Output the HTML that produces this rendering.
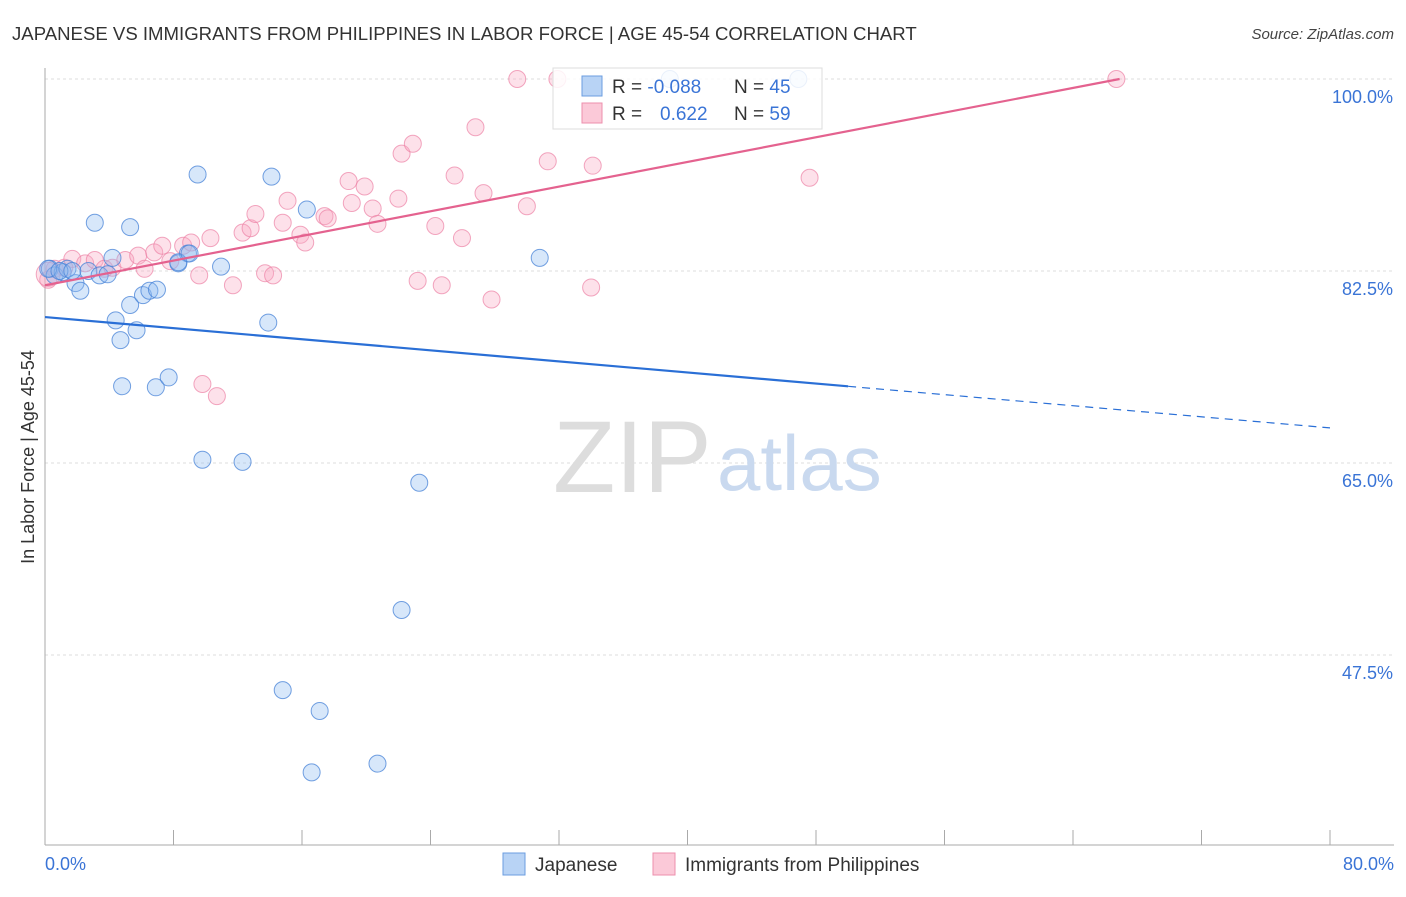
<!DOCTYPE html>
<html><head><meta charset="utf-8"><style>
body{margin:0;background:#fff;font-family:"Liberation Sans",sans-serif;}
svg text{font-family:"Liberation Sans",sans-serif;}
</style></head><body>
<svg id="chart" width="1406" height="892" xmlns="http://www.w3.org/2000/svg">
<text x="12" y="40" font-size="18.6" fill="#333">JAPANESE VS IMMIGRANTS FROM PHILIPPINES IN LABOR FORCE | AGE 45-54 CORRELATION CHART</text>
<text x="1394" y="39" font-size="15" fill="#444" text-anchor="end" font-style="italic">Source: ZipAtlas.com</text>
<g id="grid"></g>
<g>
<text x="553" y="492" font-size="102" fill="#ddd" font-family="Liberation Serif,serif">ZIP</text>
<text x="717" y="490" font-size="78" fill="#c9d9ef">atlas</text>
</g>
<line x1="45" y1="845" x2="1394" y2="845" stroke="#aaa"/>
<line x1="45" y1="68" x2="45" y2="845" stroke="#aaa"/>
<g id="ticks"></g>
<g id="pts"></g>
<g id="lines"></g>
<text transform="translate(34,457) rotate(-90)" font-size="18" fill="#333" text-anchor="middle">In Labor Force | Age 45-54</text>
<text x="45" y="870" font-size="18" fill="#3a74d6">0.0%</text>
<text x="1394" y="870" font-size="18" fill="#3a74d6" text-anchor="end">80.0%</text>
<g>
<rect x="553" y="68" width="269" height="61" fill="#fff" fill-opacity="0.85" stroke="#ddd"/>
<rect x="582" y="76" width="20" height="20" fill="#b8d3f5" stroke="#6b9ee0"/>
<rect x="582" y="103" width="20" height="20" fill="#fbc9d8" stroke="#ec8fad"/>
<text x="612" y="93" font-size="19" fill="#333">R = <tspan fill="#3a74d6">-0.088</tspan></text>
<text x="734" y="93" font-size="19" fill="#333">N = <tspan fill="#3a74d6">45</tspan></text>
<text x="612" y="120" font-size="19" fill="#333">R = </text>
<text x="660" y="120" font-size="19" fill="#3a74d6">0.622</text>
<text x="734" y="120" font-size="19" fill="#333">N = <tspan fill="#3a74d6">59</tspan></text>
</g>
<g>
<rect x="503" y="853" width="22" height="22" fill="#b8d3f5" stroke="#6b9ee0"/>
<text x="535" y="871" font-size="19" fill="#333">Japanese</text></g>
<g>
<rect x="653" y="853" width="22" height="22" fill="#fbc9d8" stroke="#ec8fad"/>
<text x="685" y="871" font-size="19" fill="#333">Immigrants from Philippines</text></g>
</svg>
<script>
const yTicks=[100,82.5,65,47.5];
const xTickVals=[0,8,16,24,32,40,48,56,64,72,80];
const jpX=[0.3,0.6,1.1,1.4,1.9,2.2,2.7,3.1,3.4,3.9,4.2,4.4,4.7,4.8,5.3,5.3,5.7,6.1,6.5,6.97,6.9,7.7,8.3,8.9,9.5,9.8,10.96,12.3,13.9,14.1,14.8,16.3,16.6,17.1,20.7,22.2,23.3,30.8,38.9,46.9,0.2,0.9,1.7,8.3,9.0];
const jpY=[82.7,82.1,82.4,82.7,81.4,80.7,82.5,86.9,82.1,82.2,83.7,78.0,76.2,72.0,79.4,86.5,77.1,80.3,80.7,80.8,71.9,72.8,83.2,84.1,91.3,65.3,82.9,65.1,77.8,91.1,44.3,88.1,36.8,42.4,37.6,51.6,63.2,83.7,100,100,82.7,82.5,82.5,83.3,84.1];
const phX=[0.2,0.6,1.2,1.7,2.5,3.1,3.7,4.2,5.0,5.8,6.2,6.8,7.3,7.8,8.6,9.1,9.6,10.3,10.7,9.8,11.7,12.3,12.8,13.1,13.7,14.2,14.8,15.1,15.9,16.2,17.4,17.6,18.9,19.1,19.9,20.4,20.7,22.0,22.2,22.9,23.2,24.3,24.7,25.5,25.96,26.8,27.3,27.8,29.4,30.0,31.3,31.9,34.0,34.1,47.6,66.7,0.2];
const phY=[81.7,82.7,82.8,83.6,83.2,83.5,82.7,82.8,83.5,83.9,82.7,84.2,84.8,83.4,84.8,85.1,82.1,85.5,71.1,72.2,81.2,86.0,86.4,87.7,82.3,82.1,86.9,88.9,85.8,85.1,87.5,87.3,90.7,88.7,90.2,88.2,86.8,89.1,93.2,94.1,81.6,86.6,81.2,91.2,85.5,95.6,89.6,79.9,100,88.4,92.5,100,81.0,92.1,91.0,100,82.2];
const X=v=>45+v*1285/80, Y=v=>79+(100-v)*192/17.5;
const NS='http://www.w3.org/2000/svg';
function mk(t,a,p){const e=document.createElementNS(NS,t);for(const k in a)e.setAttribute(k,a[k]);p.appendChild(e);return e;}
const grid=document.getElementById('grid'),ticks=document.getElementById('ticks'),pts=document.getElementById('pts'),lines=document.getElementById('lines');
yTicks.forEach(v=>{
 const l=mk('line',{x1:45,x2:1394,y1:Y(v),y2:Y(v),stroke:'#ddd','stroke-dasharray':'3,3'},grid);
 
 
 const t=mk('text',{x:1393,y:Y(v)+24,'font-size':18,fill:'#3a74d6','text-anchor':'end'},grid);
 t.textContent=v.toFixed(1)+'%';
 
 
});
xTickVals.forEach(v=>{
 const l=mk('line',{x1:X(v),x2:X(v),y1:830,y2:845,stroke:'#aaa'},ticks);
 
 
});
phX.forEach((v,i)=>{
 const c=mk('circle',{cx:X(v),cy:Y(phY[i]),r:i==phX.length-1?12:8.5,fill:'rgba(248,170,195,0.35)',stroke:'rgba(236,130,165,0.7)'},pts);
 
 
});
jpX.forEach((v,i)=>{
 const c=mk('circle',{cx:X(v),cy:Y(jpY[i]),r:8.5,fill:'rgba(140,185,240,0.35)',stroke:'rgba(70,130,215,0.75)'},pts);
 
 
});
const jpA=78.3,jpB=(68.2-78.3)/80,phA=81.2,phB=(100-81.2)/66.9;
let l=mk('line',{x1:X(0),y1:Y(jpA),x2:X(50),y2:Y(jpA+jpB*50),stroke:'#2a6fd6','stroke-width':2.2},lines);


l=mk('line',{x1:X(50),y1:Y(jpA+jpB*50),x2:X(80),y2:Y(jpA+jpB*80),stroke:'#2a6fd6','stroke-width':1.2,'stroke-dasharray':'8,6'},lines);


l=mk('line',{x1:X(0),y1:Y(phA),x2:X(66.9),y2:Y(phA+phB*66.9),stroke:'#e4628f','stroke-width':2.2},lines);


</script>
</body></html>
